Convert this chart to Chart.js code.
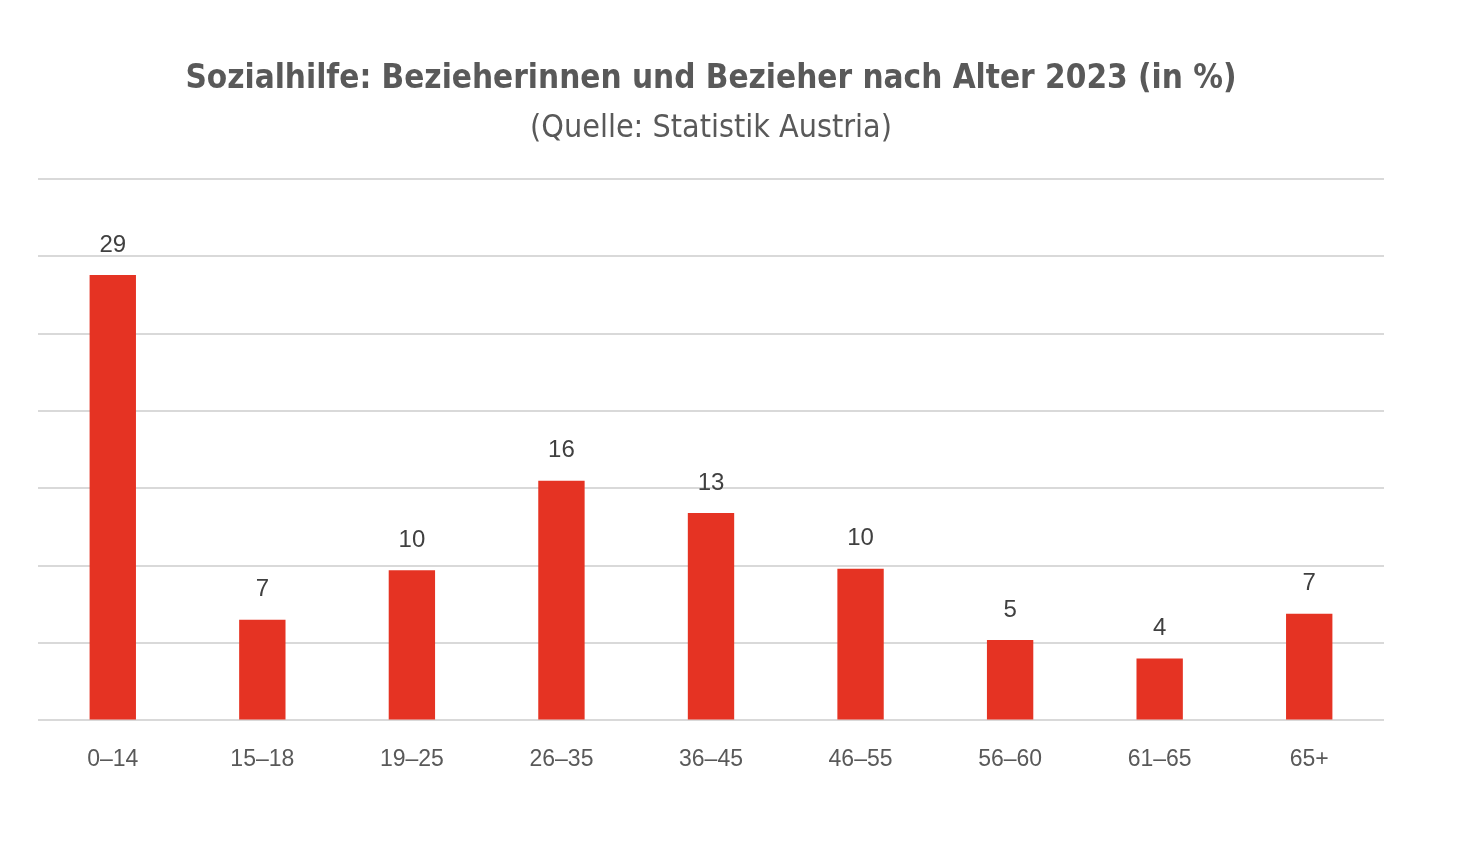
<!DOCTYPE html>
<html>
<head>
<meta charset="utf-8">
<script src="https://cdn.jsdelivr.net/npm/chart.js@4"></script>
<style>
  html, body { margin: 0; padding: 0; background: #fff; }
  #wrap { width: 1466px; height: 862px; }
</style>
</head>
<body>
<div id="wrap"><canvas id="grafik"></canvas></div>
<script>
// Altersgruppen und Anteile (in %)
const altersgruppen = ["0–14", "15–18", "19–25", "26–35", "36–45", "46–55", "56–60", "61–65", "65+"];
const anteile = [28.8, 6.5, 9.7, 15.5, 13.4, 9.8, 5.2, 4.0, 6.9];
const yTicks = [0, 5, 10, 15, 20, 25, 30, 35];

// Werte über den Balken
const wertLabels = {
  id: "wertLabels",
  afterDatasetsDraw(chart) {
    const ctx = chart.ctx;
    const meta = chart.getDatasetMeta(0);
    ctx.save();
    ctx.font = "24px 'Liberation Sans', Arial, sans-serif";
    ctx.fillStyle = "#404040";
    ctx.textAlign = "center";
    ctx.textBaseline = "bottom";
    meta.data.forEach((bar, i) => {
      ctx.fillText(Math.round(anteile[i]), bar.x, bar.y - 18);
    });
    ctx.restore();
  }
};

new Chart(document.getElementById("grafik"), {
  type: "bar",
  data: {
    labels: altersgruppen,
    datasets: [{
      data: anteile,
      backgroundColor: "#E53323",
      categoryPercentage: 1,
      barPercentage: 0.31
    }]
  },
  options: {
    responsive: true,
    maintainAspectRatio: false,
    animation: false,
    layout: { padding: { left: 38, right: 82, top: 60, bottom: 72 } },
    plugins: {
      legend: { display: false },
      tooltip: { enabled: false },
      title: {
        display: true,
        text: "Sozialhilfe: Bezieherinnen und Bezieher nach Alter 2023 (in %)",
        color: "#595959",
        font: { family: "'Liberation Sans Narrow', 'DejaVu Sans Condensed', sans-serif", size: 33, weight: "bold" },
        padding: { top: 0, bottom: 10 }
      },
      subtitle: {
        display: true,
        text: "(Quelle: Statistik Austria)",
        color: "#595959",
        font: { family: "'Liberation Sans Narrow', 'DejaVu Sans Condensed', sans-serif", size: 32 },
        padding: { top: 0, bottom: 31 }
      }
    },
    scales: {
      x: {
        grid: { display: false },
        border: { display: false },
        ticks: {
          color: "#595959",
          font: { family: "'Liberation Sans', Arial, sans-serif", size: 23 },
          padding: 17
        }
      },
      y: {
        min: 0,
        max: 35,
        afterBuildTicks(axis) { axis.ticks = yTicks.map(v => ({ value: v })); },
        ticks: { display: false },
        grid: { color: "#d9d9d9", lineWidth: 2, drawTicks: false },
        border: { display: false }
      }
    }
  },
  plugins: [wertLabels]
});
</script>
</body>
</html>
